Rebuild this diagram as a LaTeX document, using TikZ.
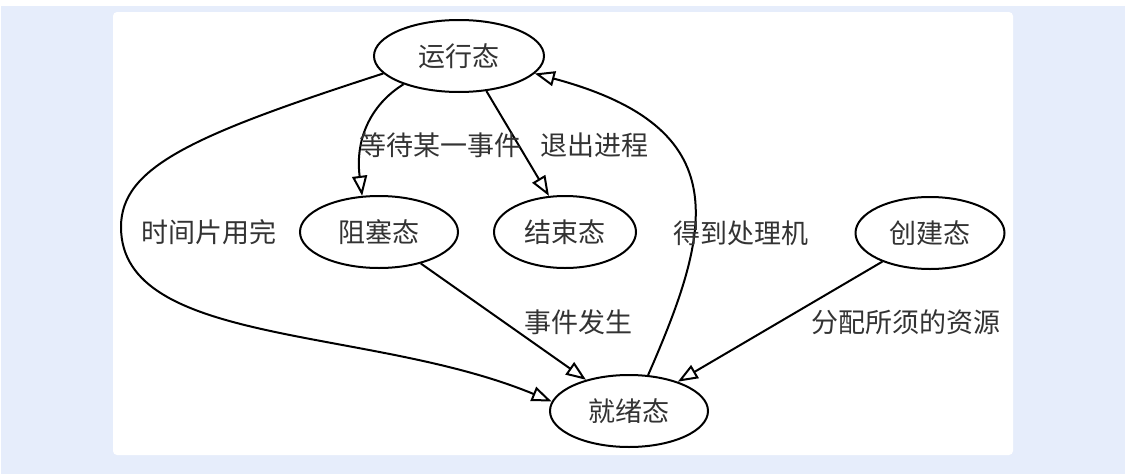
\documentclass[tikz,border=0pt]{standalone}
\usepackage{fontspec}
\setmainfont{Noto Sans CJK SC}
\usetikzlibrary{shapes,arrows.meta,positioning}
\definecolor{bgblue}{RGB}{230,237,251}
\tikzset{
  %Define standard arrow tip
  >={Triangle[open,length=20pt,width=15pt]},
  %Define style for states
  oval/.style={
    ellipse,
    draw=black, line width=2pt,
    minimum height=72pt,
    inner sep=0pt,
    text=black!80,
    font=\fontsize{27}{32}\selectfont},
  %Define style for edge labels
  lbl/.style={
    inner sep=0pt,
    text=black!80,
    font=\fontsize{27}{32}\selectfont},
  % Define arrow style
  pil/.style={
    ->,
    line width=2pt}
}

\begin{document}
\begin{tikzpicture}[x=1pt,y=-1pt]
    \useasboundingbox (0,0) rectangle (1125,474);
    \fill[bgblue] (1,6) rectangle (1125,474);
    \fill[white, rounded corners=4pt] (113,12) rectangle (1013,455);
    % states
    \node[oval, minimum width=170pt] (run) at (459,56) {运行态};
    \node[oval, minimum width=158pt] (blocked) at (379,232) {阻塞态};
    \node[oval, minimum width=142pt] (end) at (565,232) {结束态};
    \node[oval, minimum width=149pt] (create) at (930,233) {创建态};
    \node[oval, minimum width=158pt] (ready) at (629,411) {就绪态};
    \coordinate (bend) at (121,227);
    % transitions
    \draw[pil] (run.193) .. controls (193,135) and (121,167) .. (bend)
      .. controls (121,347) and (370,326) .. (ready.173);
    \draw[pil] (run.207) .. controls (370,105) and (355,140) .. (blocked.115);
    \draw[pil] (run.308) -- (end.114);
    \draw[pil] (blocked.323) -- (ready.144);
    \draw[pil] (ready.62) .. controls (712,229) and (738,128) .. (run.347);
    \draw[pil] (create.211) -- (ready.31);
    % labels
    \node[lbl] (timeout) at (209,232) {时间片用完};
    \node[lbl] (wait) at (440,145) {等待某一事件};
    \node[lbl] (exit) at (594,145) {退出进程};
    \node[lbl] (occur) at (578,322) {事件发生};
    \node[lbl] (dispatch) at (741,233) {得到处理机};
    \node[lbl] (admit) at (906,322) {分配所须的资源};
\end{tikzpicture}
\end{document}
